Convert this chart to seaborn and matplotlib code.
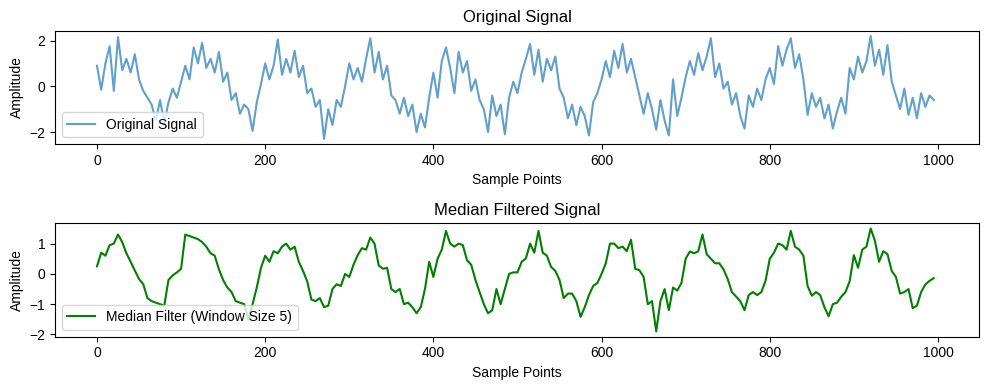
import numpy as np
import seaborn as sns
import matplotlib
matplotlib.use("Agg")
import matplotlib.pyplot as plt
from matplotlib.ticker import MultipleLocator

plt.rcParams['font.family'] = ['Liberation Sans', 'DejaVu Sans']

# values, one every 5 sample points
sample_points = np.arange(0, 1000, 5)

original_signal = [
    0.9, -0.15, 1.0, 1.75, -0.2, 2.15, 0.7, 1.2, 0.6, 1.4,
    0.3, -0.2, -0.5, -0.8, -1.5, -0.6, -1.6, -0.7, -0.1, -0.5,
    0.2, 0.9, 0.3, 1.7, 1.0, 1.9, 0.8, 1.2, 0.6, 1.5,
    0.2, 0.6, -0.6, -0.3, -1.2, -0.8, -1.0, -1.95, -0.7, 0.1,
    1.0, 0.3, 0.9, 2.05, 0.5, 1.2, 0.6, 1.55, 0.4, 0.9,
    -0.3, -0.1, -0.9, -0.6, -2.3, -1.0, -1.7, -0.6, -0.9, 0.0,
    1.0, 0.3, 0.8, 0.2, 1.2, 2.1, 0.6, 1.5, 0.3, 0.9,
    -0.4, -0.6, -1.2, -0.5, -1.3, -0.8, -2.0, -1.2, -1.8, -0.5,
    0.6, -0.5, 1.1, 1.7, 0.8, -0.3, 1.5, 0.6, 1.1, -0.2,
    0.3, -0.6, -1.0, -2.0, -0.4, -1.3, -0.8, -2.1, -0.5, 0.2,
    -0.3, 0.6, 1.2, 1.85, 0.5, 1.6, 0.2, 1.2, 0.7, 1.3,
    -0.1, -0.5, -1.4, -0.8, -1.7, -0.9, -1.3, -2.15, -0.7, -0.3,
    0.3, 1.1, 0.4, 1.55, 0.8, 1.85, 0.6, 1.2, 0.4, -0.4,
    -1.2, -0.3, -1.0, -1.9, -0.6, -1.5, -2.15, 0.3, -1.3, -0.5,
    0.4, 1.1, 0.5, 1.45, 0.7, 1.3, 2.1, 0.4, 1.0, -0.1,
    0.2, -0.8, -0.3, -1.3, -1.85, -0.4, -0.9, -0.1, -0.6, 0.3,
    0.8, 0.1, 1.75, 0.9, 1.6, 2.1, 0.8, 1.4, 0.3, -1.25,
    -0.3, -0.9, -0.5, -1.4, -0.8, -1.85, -1.1, -0.5, -1.2, 0.8,
    0.3, 1.3, 0.6, 1.1, 2.2, 0.9, 1.6, 0.5, 1.8, 0.2,
    -0.4, -1.0, -0.1, -1.25, -0.5, -1.4, -0.3, -0.9, -0.4, -0.6,
]

median_filtered = [
    0.25, 0.7, 0.6, 0.95, 1.0, 1.3, 1.05, 0.68, 0.4, 0.11,
    -0.17, -0.34, -0.8, -0.9, -0.95, -1.0, -1.05, -0.2, -0.05, 0.05,
    0.17, 1.3, 1.25, 1.2, 1.15, 1.05, 0.9, 0.68, 0.6, 0.15,
    -0.2, -0.45, -0.6, -0.9, -0.95, -1.0, -1.5, -1.0, -0.45, 0.2,
    0.6, 0.4, 0.75, 0.68, 0.9, 1.0, 0.8, 0.9, 0.4, 0.1,
    -0.25, -0.85, -0.9, -0.8, -1.1, -1.05, -0.5, -0.34, -0.4, 0.0,
    -0.1, 0.3, 0.62, 0.85, 0.8, 1.2, 1.0, 0.28, 0.17, 0.2,
    -0.5, -0.6, -0.5, -1.0, -0.95, -1.1, -1.3, -1.1, -0.5, 0.4,
    -0.1, 0.5, 0.8, 1.42, 1.0, 0.9, 1.0, 0.95, 0.45, 0.3,
    -0.2, -0.6, -1.0, -1.3, -1.2, -0.5, -1.0, -0.5, 0.0, 0.05,
    0.05, 0.4, 0.51, 1.0, 0.7, 1.42, 0.7, 0.6, 0.23, 0.1,
    -0.2, -0.8, -0.65, -0.65, -0.9, -1.42, -1.1, -0.7, -0.4, -0.3,
    0.0, 0.35, 1.0, 1.0, 0.85, 0.9, 0.75, 1.13, 0.17, 0.12,
    -0.1, -1.0, -0.9, -1.9, -0.9, -0.5, -1.2, -0.45, -0.55, -0.3,
    0.5, 0.74, 0.68, 0.75, 1.3, 0.65, 0.5, 0.35, 0.35, 0.15,
    -0.17, -0.6, -0.75, -0.9, -1.2, -0.7, -0.6, -0.7, -0.6, -0.23,
    0.5, 0.7, 1.0, 0.95, 0.8, 1.42, 0.9, 0.8, 0.6, -0.4,
    -0.72, -0.6, -0.7, -1.1, -1.4, -1.0, -0.95, -0.75, -0.6, -0.25,
    0.62, 0.2, 0.8, 0.9, 1.5, 1.1, 0.4, 0.75, 0.65, 0.1,
    -0.1, -0.65, -0.6, -0.5, -1.13, -1.05, -0.6, -0.35, -0.23, -0.14,
]

fig, axes = plt.subplots(2, 1, figsize=(9.89, 3.9), dpi=100)
fig.subplots_adjust(left=0.0556, right=0.99, top=0.921, bottom=0.137, hspace=0.70)

sns.lineplot(x=sample_points, y=original_signal, ax=axes[0],
             label='Original Signal', alpha=0.7)
axes[0].set_title('Original Signal')
axes[0].set_xlabel('Sample Points')
axes[0].set_ylabel('Amplitude')
axes[0].legend(loc='lower left')

sns.lineplot(x=sample_points, y=median_filtered, ax=axes[1],
             label='Median Filter (Window Size 5)', color='green')
axes[1].set_title('Median Filtered Signal')
axes[1].set_xlabel('Sample Points')
axes[1].set_ylabel('Amplitude')
axes[1].yaxis.set_major_locator(MultipleLocator(1))
axes[1].legend(loc='lower left')

for ax in axes:
    ax.set_xlim(-49.95, 1048.95)

plt.savefig('out.png')
